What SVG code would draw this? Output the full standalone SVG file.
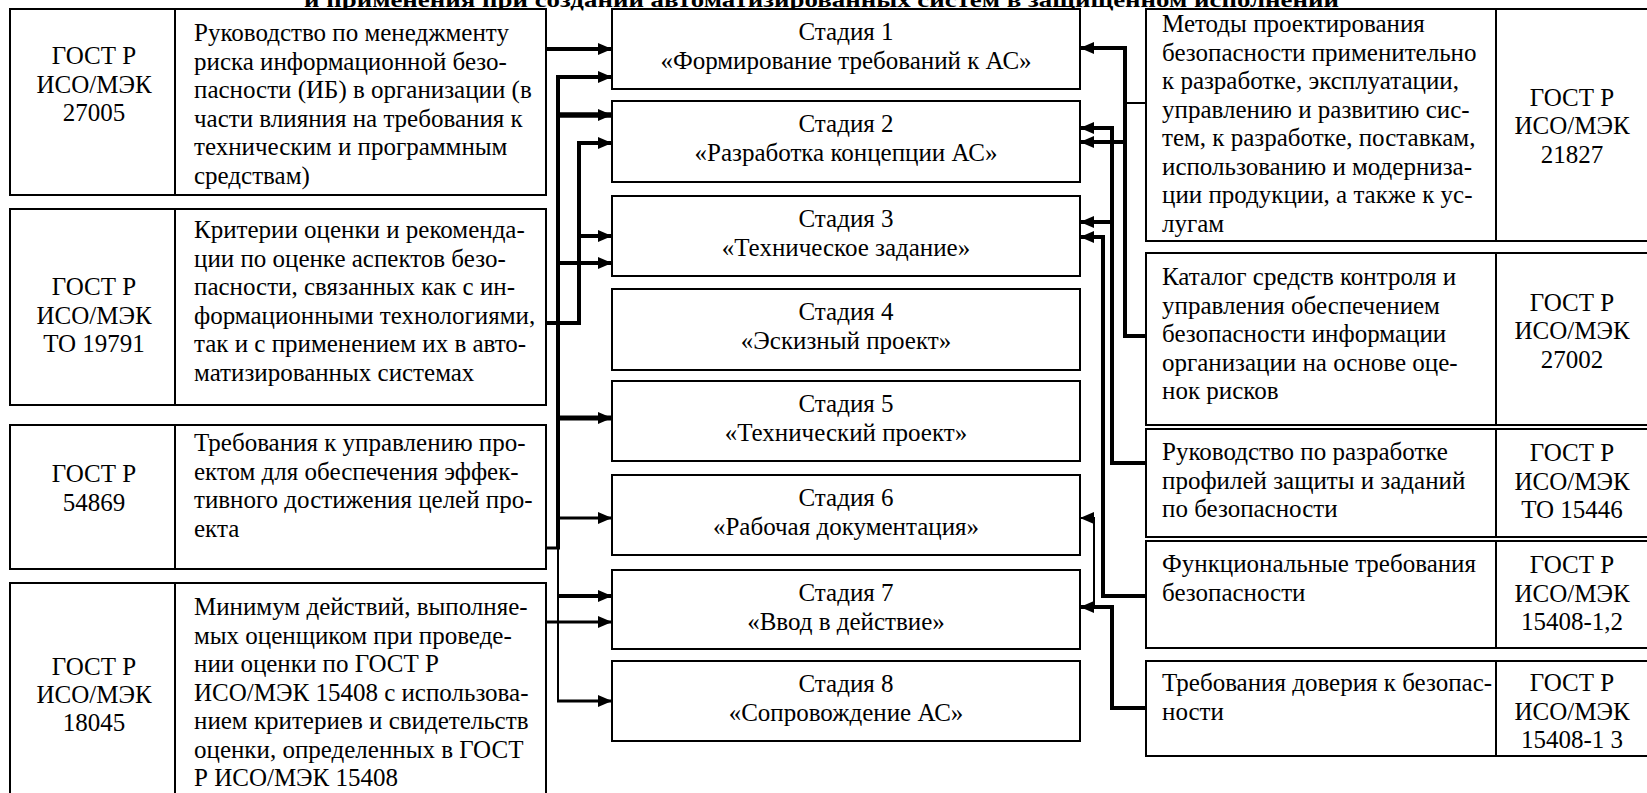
<svg xmlns="http://www.w3.org/2000/svg" width="1647" height="793" viewBox="0 0 1647 793">
<style>
.bx{fill:#fff;stroke:#000;stroke-width:2}
.dv{stroke:#000;stroke-width:2}
.t{font-family:"Liberation Serif","Times New Roman",serif;font-size:25px;fill:#000}
.c{text-anchor:middle}
.ttl{font-family:"Liberation Serif","Times New Roman",serif;font-size:22px;font-weight:bold;fill:#000}
.k{fill:none;stroke:#000;stroke-width:4}
.n{fill:none;stroke:#000;stroke-width:2}
.a{marker-end:url(#ah)}
</style>
<defs>
<marker id="ah" markerUnits="userSpaceOnUse" markerWidth="14" markerHeight="12" refX="14" refY="6" orient="auto">
<path d="M0,0 L14,6 L0,12 z" fill="#000"/>
</marker>
</defs>
<rect width="1647" height="793" fill="#fff"/>
<text class="ttl" x="304" y="7" textLength="1035" lengthAdjust="spacingAndGlyphs">и применения при создании автоматизированных систем в защищенном исполнении</text>

<g id="L1">
<rect class="bx" x="10" y="9" width="536" height="186"/>
<line class="dv" x1="175" y1="9" x2="175" y2="195"/>
<text class="t c"><tspan x="94" y="64">ГОСТ Р</tspan><tspan x="94" y="92.5">ИСО/МЭК</tspan><tspan x="94" y="121">27005</tspan></text>
<text class="t"><tspan x="194" y="41">Руководство по менеджменту</tspan><tspan x="194" y="69.5">риска информационной безо-</tspan><tspan x="194" y="98">пасности (ИБ) в организации (в</tspan><tspan x="194" y="126.5">части влияния на требования к</tspan><tspan x="194" y="155">техническим и программным</tspan><tspan x="194" y="183.5">средствам)</tspan></text>
</g>
<g id="L2">
<rect class="bx" x="10" y="209" width="536" height="196"/>
<line class="dv" x1="175" y1="209" x2="175" y2="405"/>
<text class="t c"><tspan x="94" y="295">ГОСТ Р</tspan><tspan x="94" y="323.5">ИСО/МЭК</tspan><tspan x="94" y="352">ТО 19791</tspan></text>
<text class="t"><tspan x="194" y="238">Критерии оценки и рекоменда-</tspan><tspan x="194" y="266.5">ции по оценке аспектов безо-</tspan><tspan x="194" y="295">пасности, связанных как с ин-</tspan><tspan x="194" y="323.5">формационными технологиями,</tspan><tspan x="194" y="352">так и с применением их в авто-</tspan><tspan x="194" y="380.5">матизированных системах</tspan></text>
</g>
<g id="L3">
<rect class="bx" x="10" y="425" width="536" height="144"/>
<line class="dv" x1="175" y1="425" x2="175" y2="569"/>
<text class="t c"><tspan x="94" y="482">ГОСТ Р</tspan><tspan x="94" y="510.5">54869</tspan></text>
<text class="t"><tspan x="194" y="451">Требования к управлению про-</tspan><tspan x="194" y="479.5">ектом для обеспечения эффек-</tspan><tspan x="194" y="508">тивного достижения целей про-</tspan><tspan x="194" y="536.5">екта</tspan></text>
</g>
<g id="L4">
<rect class="bx" x="10" y="583" width="536" height="230"/>
<line class="dv" x1="175" y1="583" x2="175" y2="813"/>
<text class="t c"><tspan x="94" y="675">ГОСТ Р</tspan><tspan x="94" y="703">ИСО/МЭК</tspan><tspan x="94" y="731">18045</tspan></text>
<text class="t"><tspan x="194" y="615">Минимум действий, выполняе-</tspan><tspan x="194" y="643.5">мых оценщиком при проведе-</tspan><tspan x="194" y="672">нии оценки по ГОСТ Р</tspan><tspan x="194" y="700.5">ИСО/МЭК 15408 с использова-</tspan><tspan x="194" y="729">нием критериев и свидетельств</tspan><tspan x="194" y="757.5">оценки, определенных в ГОСТ</tspan><tspan x="194" y="786">Р ИСО/МЭК 15408</tspan></text>
</g>

<g id="S1"><rect class="bx" x="612" y="9" width="468" height="80"/><text class="t c"><tspan x="846" y="40">Стадия 1</tspan><tspan x="846" y="69">«Формирование требований к АС»</tspan></text></g>
<g id="S2"><rect class="bx" x="612" y="101" width="468" height="81"/><text class="t c"><tspan x="846" y="132">Стадия 2</tspan><tspan x="846" y="161">«Разработка концепции АС»</tspan></text></g>
<g id="S3"><rect class="bx" x="612" y="196" width="468" height="80"/><text class="t c"><tspan x="846" y="227">Стадия 3</tspan><tspan x="846" y="256">«Техническое задание»</tspan></text></g>
<g id="S4"><rect class="bx" x="612" y="289" width="468" height="81"/><text class="t c"><tspan x="846" y="320">Стадия 4</tspan><tspan x="846" y="349">«Эскизный проект»</tspan></text></g>
<g id="S5"><rect class="bx" x="612" y="381" width="468" height="80"/><text class="t c"><tspan x="846" y="412">Стадия 5</tspan><tspan x="846" y="441">«Технический проект»</tspan></text></g>
<g id="S6"><rect class="bx" x="612" y="475" width="468" height="80"/><text class="t c"><tspan x="846" y="506">Стадия 6</tspan><tspan x="846" y="535">«Рабочая документация»</tspan></text></g>
<g id="S7"><rect class="bx" x="612" y="570" width="468" height="79"/><text class="t c"><tspan x="846" y="601">Стадия 7</tspan><tspan x="846" y="630">«Ввод в действие»</tspan></text></g>
<g id="S8"><rect class="bx" x="612" y="661" width="468" height="80"/><text class="t c"><tspan x="846" y="692">Стадия 8</tspan><tspan x="846" y="721">«Сопровождение АС»</tspan></text></g>

<g id="R1">
<rect class="bx" x="1146" y="9" width="520" height="232"/>
<line class="dv" x1="1496" y1="9" x2="1496" y2="241"/>
<text class="t"><tspan x="1162" y="32">Методы проектирования</tspan><tspan x="1162" y="60.5">безопасности применительно</tspan><tspan x="1162" y="89">к разработке, эксплуатации,</tspan><tspan x="1162" y="117.5">управлению и развитию сис-</tspan><tspan x="1162" y="146">тем, к разработке, поставкам,</tspan><tspan x="1162" y="174.5">использованию и модерниза-</tspan><tspan x="1162" y="203">ции продукции, а также к ус-</tspan><tspan x="1162" y="231.5">лугам</tspan></text>
<text class="t c"><tspan x="1572" y="105.5">ГОСТ Р</tspan><tspan x="1572" y="134">ИСО/МЭК</tspan><tspan x="1572" y="162.5">21827</tspan></text>
</g>
<g id="R2">
<rect class="bx" x="1146" y="253" width="520" height="172"/>
<line class="dv" x1="1496" y1="253" x2="1496" y2="425"/>
<text class="t"><tspan x="1162" y="285">Каталог средств контроля и</tspan><tspan x="1162" y="313.5">управления обеспечением</tspan><tspan x="1162" y="342">безопасности информации</tspan><tspan x="1162" y="370.5">организации на основе оце-</tspan><tspan x="1162" y="399">нок рисков</tspan></text>
<text class="t c"><tspan x="1572" y="310.5">ГОСТ Р</tspan><tspan x="1572" y="339">ИСО/МЭК</tspan><tspan x="1572" y="367.5">27002</tspan></text>
</g>
<g id="R3">
<rect class="bx" x="1146" y="429" width="520" height="108"/>
<line class="dv" x1="1496" y1="429" x2="1496" y2="537"/>
<text class="t"><tspan x="1162" y="460">Руководство по разработке</tspan><tspan x="1162" y="488.5">профилей защиты и заданий</tspan><tspan x="1162" y="517">по безопасности</tspan></text>
<text class="t c"><tspan x="1572" y="461">ГОСТ Р</tspan><tspan x="1572" y="489.5">ИСО/МЭК</tspan><tspan x="1572" y="518">ТО 15446</tspan></text>
</g>
<g id="R4">
<rect class="bx" x="1146" y="541" width="520" height="107"/>
<line class="dv" x1="1496" y1="541" x2="1496" y2="648"/>
<text class="t"><tspan x="1162" y="572">Функциональные требования</tspan><tspan x="1162" y="600.5">безопасности</tspan></text>
<text class="t c"><tspan x="1572" y="573">ГОСТ Р</tspan><tspan x="1572" y="601.5">ИСО/МЭК</tspan><tspan x="1572" y="630">15408-1,2</tspan></text>
</g>
<g id="R5">
<rect class="bx" x="1146" y="661" width="520" height="95"/>
<line class="dv" x1="1496" y1="661" x2="1496" y2="756"/>
<text class="t"><tspan x="1162" y="691">Требования доверия к безопас-</tspan><tspan x="1162" y="719.5">ности</tspan></text>
<text class="t c"><tspan x="1572" y="691">ГОСТ Р</tspan><tspan x="1572" y="719.5">ИСО/МЭК</tspan><tspan x="1572" y="748">15408-1 3</tspan></text>
</g>

<g id="connectors">
<path class="k a" d="M545,49 H612"/>
<path class="k" d="M558,75 V548"/>
<path class="n" d="M558,548 V701"/>
<path class="k a" d="M556,77 H612"/>
<path class="k a" d="M556,115 H612" style="stroke-width:5.5"/>
<path class="k a" d="M556,263 H612"/>
<path class="k a" d="M556,418 H612" style="stroke-width:5"/>
<path class="k a" d="M556,518 H612" style="stroke-width:3"/>
<path class="k a" d="M557,596 H612"/>
<path class="k a" d="M557,701 H612" style="stroke-width:3"/>
<path class="k" d="M545,548 H560" style="stroke-width:3"/>
<path class="k" d="M579,141 V325"/>
<path class="k a" d="M577,143 H612"/>
<path class="k a" d="M579,236 H612"/>
<path class="k" d="M545,323 H581"/>
<path class="k a" d="M545,622 H612" style="stroke-width:3"/>

<path class="k" d="M1125,46 V338"/>
<path class="k a" d="M1127,48 H1080"/>
<path class="k a" d="M1127,142 H1080"/>
<path class="n" d="M1146,103 H1124"/>
<path class="k" d="M1146,336 H1123"/>
<path class="k" d="M1112,126 V465"/>
<path class="k a" d="M1114,128 H1080"/>
<path class="k a" d="M1112,222 H1080"/>
<path class="k" d="M1146,463 H1110"/>
<path class="k" d="M1103,235 V598"/>
<path class="k a" d="M1105,237 H1080"/>
<path class="k" d="M1146,596 H1101"/>
<path class="n" d="M1094,518 V607"/>
<path class="n a" d="M1095,518 H1080"/>
<path class="k a" d="M1146,708 H1112 V607 H1080"/>
</g>
</svg>
